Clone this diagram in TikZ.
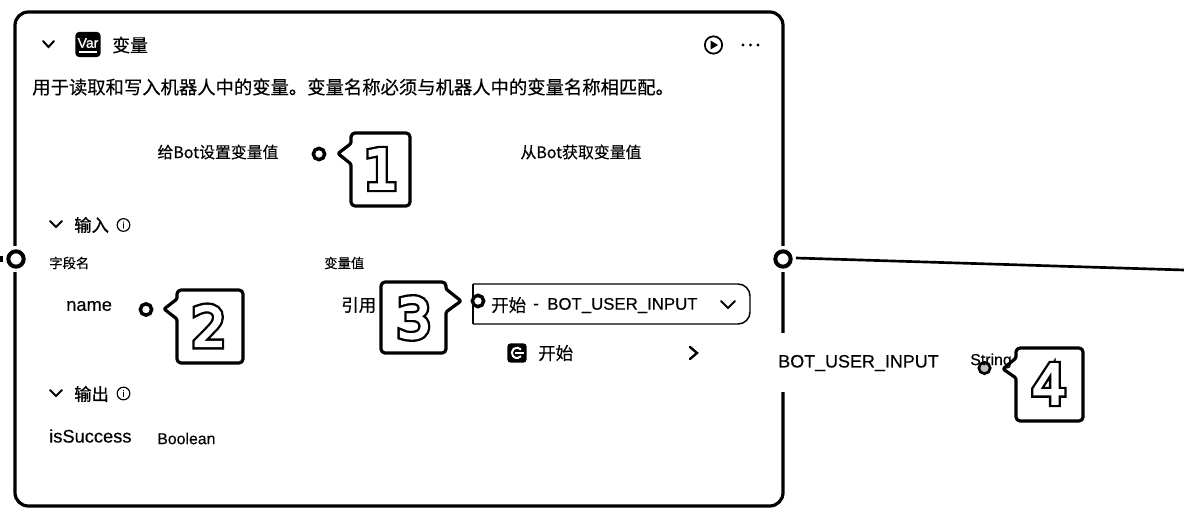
\documentclass[tikz,border=0pt]{standalone}
\usepackage{fontspec}
\setmainfont{Liberation Sans}[FakeBold=0.35]
\newfontfamily\cjk{Noto Sans CJK SC}[FakeBold=0.35]
\newfontfamily\cjkh{Noto Sans CJK SC}[FakeBold=0.9]
\newfontfamily\digb{DejaVu Sans}[FakeBold=12]
\newfontfamily\digw{DejaVu Sans}[FakeBold=3.5]
\newfontfamily\iconf{Liberation Sans}[FakeBold=1]
\tikzset{
  x=0.75pt,y=-0.75pt,
  txt/.style={inner sep=0pt,anchor=west,text=black},
  desc/.style={txt,font=\fontsize{13.75pt}{14pt}\cjk},
  cjkbody/.style={txt,font=\fontsize{13.1pt}{14pt}\cjk},
  cjkhead/.style={txt,font=\fontsize{13pt}{14pt}\cjkh},
  small/.style={txt,font=\fontsize{10pt}{10pt}\cjk},
  mid/.style={txt,anchor=center,font=\fontsize{11.9pt}{12pt}\cjk},
  body/.style={txt,font=\fontsize{13.7pt}{14pt}\selectfont},
  smallb/.style={txt,font=\fontsize{11.9pt}{12pt}\selectfont},
  port/.style={circle,draw=black,fill=white,line width=3pt,minimum size=11.5pt,inner sep=0pt},
  smallport/.style={circle,draw=black,fill=white,line width=2.6pt,minimum size=8.5pt,inner sep=0pt},
  chev/.style={line width=1.5pt,line cap=round},
  callout/.style={draw=black,fill=white,line width=2.4pt,line join=round},
  info/.style={circle,draw=black,line width=0.9pt,minimum size=9.5pt,inner sep=0pt,font=\fontsize{7pt}{7pt}\selectfont},
}
\newcommand{\digitmark}[3]{%
  \node[font=\fontsize{41pt}{41pt}\digb,inner sep=0pt] (#1b) at (#2) {#3};
  \node[font=\fontsize{41pt}{41pt}\digw,inner sep=0pt,text=white] (#1w) at (#2) {#3};
}
\begin{document}
\begin{tikzpicture}
\useasboundingbox (0,0) rectangle (1184,524);
\fill[white] (0,0) rectangle (1184,524);

% card
\draw[line width=2.4pt,rounded corners=10pt] (15,12) rectangle (783,506);

% ports, with the white gap they leave in the card outline
\path[fill=white] (6,246) rectangle (26,272);
\path[fill=white] (773,246) rectangle (793,272);
\coordinate (edgeL) at (-2,259);
\coordinate (edgeLend) at (2.5,259);
\coordinate (edgeR) at (1184,270);
\coordinate (prout) at (796,258);
\node[port] (pl) at (16,259) {};
\node[port] (pr) at (783,259) {};
\draw[line width=2pt] (prout) -- (edgeR);
\draw[line width=4pt] (edgeL) -- (edgeLend);

% header
\draw[chev] (43,41) -- (48.5,47) -- (54,41);
\node[fill=black,rounded corners=3pt,minimum size=19pt,inner sep=0pt] (varicon) at (88,44.5) {};
\node[inner sep=0pt,text=white,font=\fontsize{10.5pt}{10pt}\iconf] (vartext) at (88,43) {Var};
\draw[white,line width=0.8pt] (79,52) -- (97,52);
\node[cjkhead,font=\fontsize{13.4pt}{14pt}\cjk] (title) at (112,45) {变量};
\node[circle,draw=black,line width=1.3pt,minimum size=13pt,inner sep=0pt] (play) at (713.5,45) {};
\fill (710.5,40.5) -- (718,45) -- (710.5,49.5) -- cycle;
\foreach \x in {743,750.5,758} \fill (\x,45) circle (1.3pt);
\node[desc] (desc) at (32,87) {用于读取和写入机器人中的变量。变量名称必须与机器人中的变量名称相匹配。};

% headings
\node[mid] (setv) at (218,152) {给Bot设置变量值};
\node[mid] (getv) at (581,152) {从Bot获取变量值};
\node[smallport] (p1) at (319,154) {};
\draw[callout,rounded corners=1pt] (338,153.5) -- (351,143.5) [rounded corners=3pt] -- (351,133) -- (410,133) -- (410,206) -- (351,206) [rounded corners=1pt] -- (351,164) -- cycle;
\digitmark{d1}{381,169}{1}

% input
\draw[chev] (50,221) -- (56,227) -- (62,221);
\node[cjkhead] (inp) at (74,225) {输入};
\node[info] (i1) at (123.5,225) {i};
\node[small] (fn) at (49,263) {字段名};
\node[small] (vn) at (324,263) {变量值};
\node[body] (name) at (66,306) {name};
\node[smallport] (p2) at (146,309.5) {};
\draw[callout,rounded corners=1pt] (164,309) -- (177,299) [rounded corners=3pt] -- (177,290) -- (243,290) -- (243,363) -- (177,363) [rounded corners=1pt] -- (177,319) -- cycle;
\digitmark{d2}{209,326}{2}
\node[cjkbody] (ref) at (341,305) {引用};

% select
\draw[line width=1.1pt,rounded corners=9pt] (473,284) -- (750,284) -- (750,324) -- (473,324);
\draw[line width=1.1pt] (473,284) -- (473,324);
\node[smallport] (p3) at (478,301) {};
\node[cjkbody] (start1) at (491,305) {开始};
\node[body,font=\fontsize{12.6pt}{14pt}\selectfont] (dash) at (533,306.5) {-};
\node[body,font=\fontsize{12.6pt}{14pt}\selectfont] (biu) at (547,305.5) {BOT\_USER\_INPUT};
\draw[chev] (721,301) -- (728,308) -- (735,301);

\draw[callout,rounded corners=1pt] (461,301) -- (446,289) [rounded corners=3pt] -- (446,282) -- (381,282) -- (381,353) -- (446,353) [rounded corners=1pt] -- (446,312) -- cycle;
\digitmark{d3}{414,318}{3}

\node[fill=black,rounded corners=2.5pt,minimum size=14.5pt,inner sep=0pt] (starticon) at (517,353) {};
\draw[white,line width=1.5pt] (521,349.5) arc (40:320:3.9pt);
\draw[white,line width=1.2pt] (515,353) -- (524,353);
\node[cjkbody] (start2) at (538,353) {开始};
\draw[line width=1.8pt,line cap=round] (690,347) -- (697,353) -- (690,359);

% output
\draw[chev] (50,390) -- (56,396) -- (62,390);
\node[cjkhead] (outp) at (74,394) {输出};
\node[info] (i2) at (123.5,393.5) {i};
\node[body] (succ) at (49,436) {isSuccess};
\node[smallb] (bool) at (157,438.5) {Boolean};

% output variable
\path[fill=white] (770,332.5) rectangle (945,391.5);
\node[body,font=\fontsize{13.45pt}{14pt}\selectfont] (buv) at (778,363) {BOT\_USER\_INPUT};
\node[circle,draw=black,line width=2pt,fill=gray!50,minimum size=8.5pt,inner sep=0pt] (p4) at (984.5,368) {};
\draw[callout,rounded corners=1pt] (1003,369) -- (1016,358) [rounded corners=3pt] -- (1016,348) -- (1083,348) -- (1083,421) -- (1016,421) [rounded corners=1pt] -- (1016,378) -- cycle;
\node[smallb] (str) at (970,361) {String};
\digitmark{d4}{1049,384}{4}
\end{tikzpicture}
\end{document}
